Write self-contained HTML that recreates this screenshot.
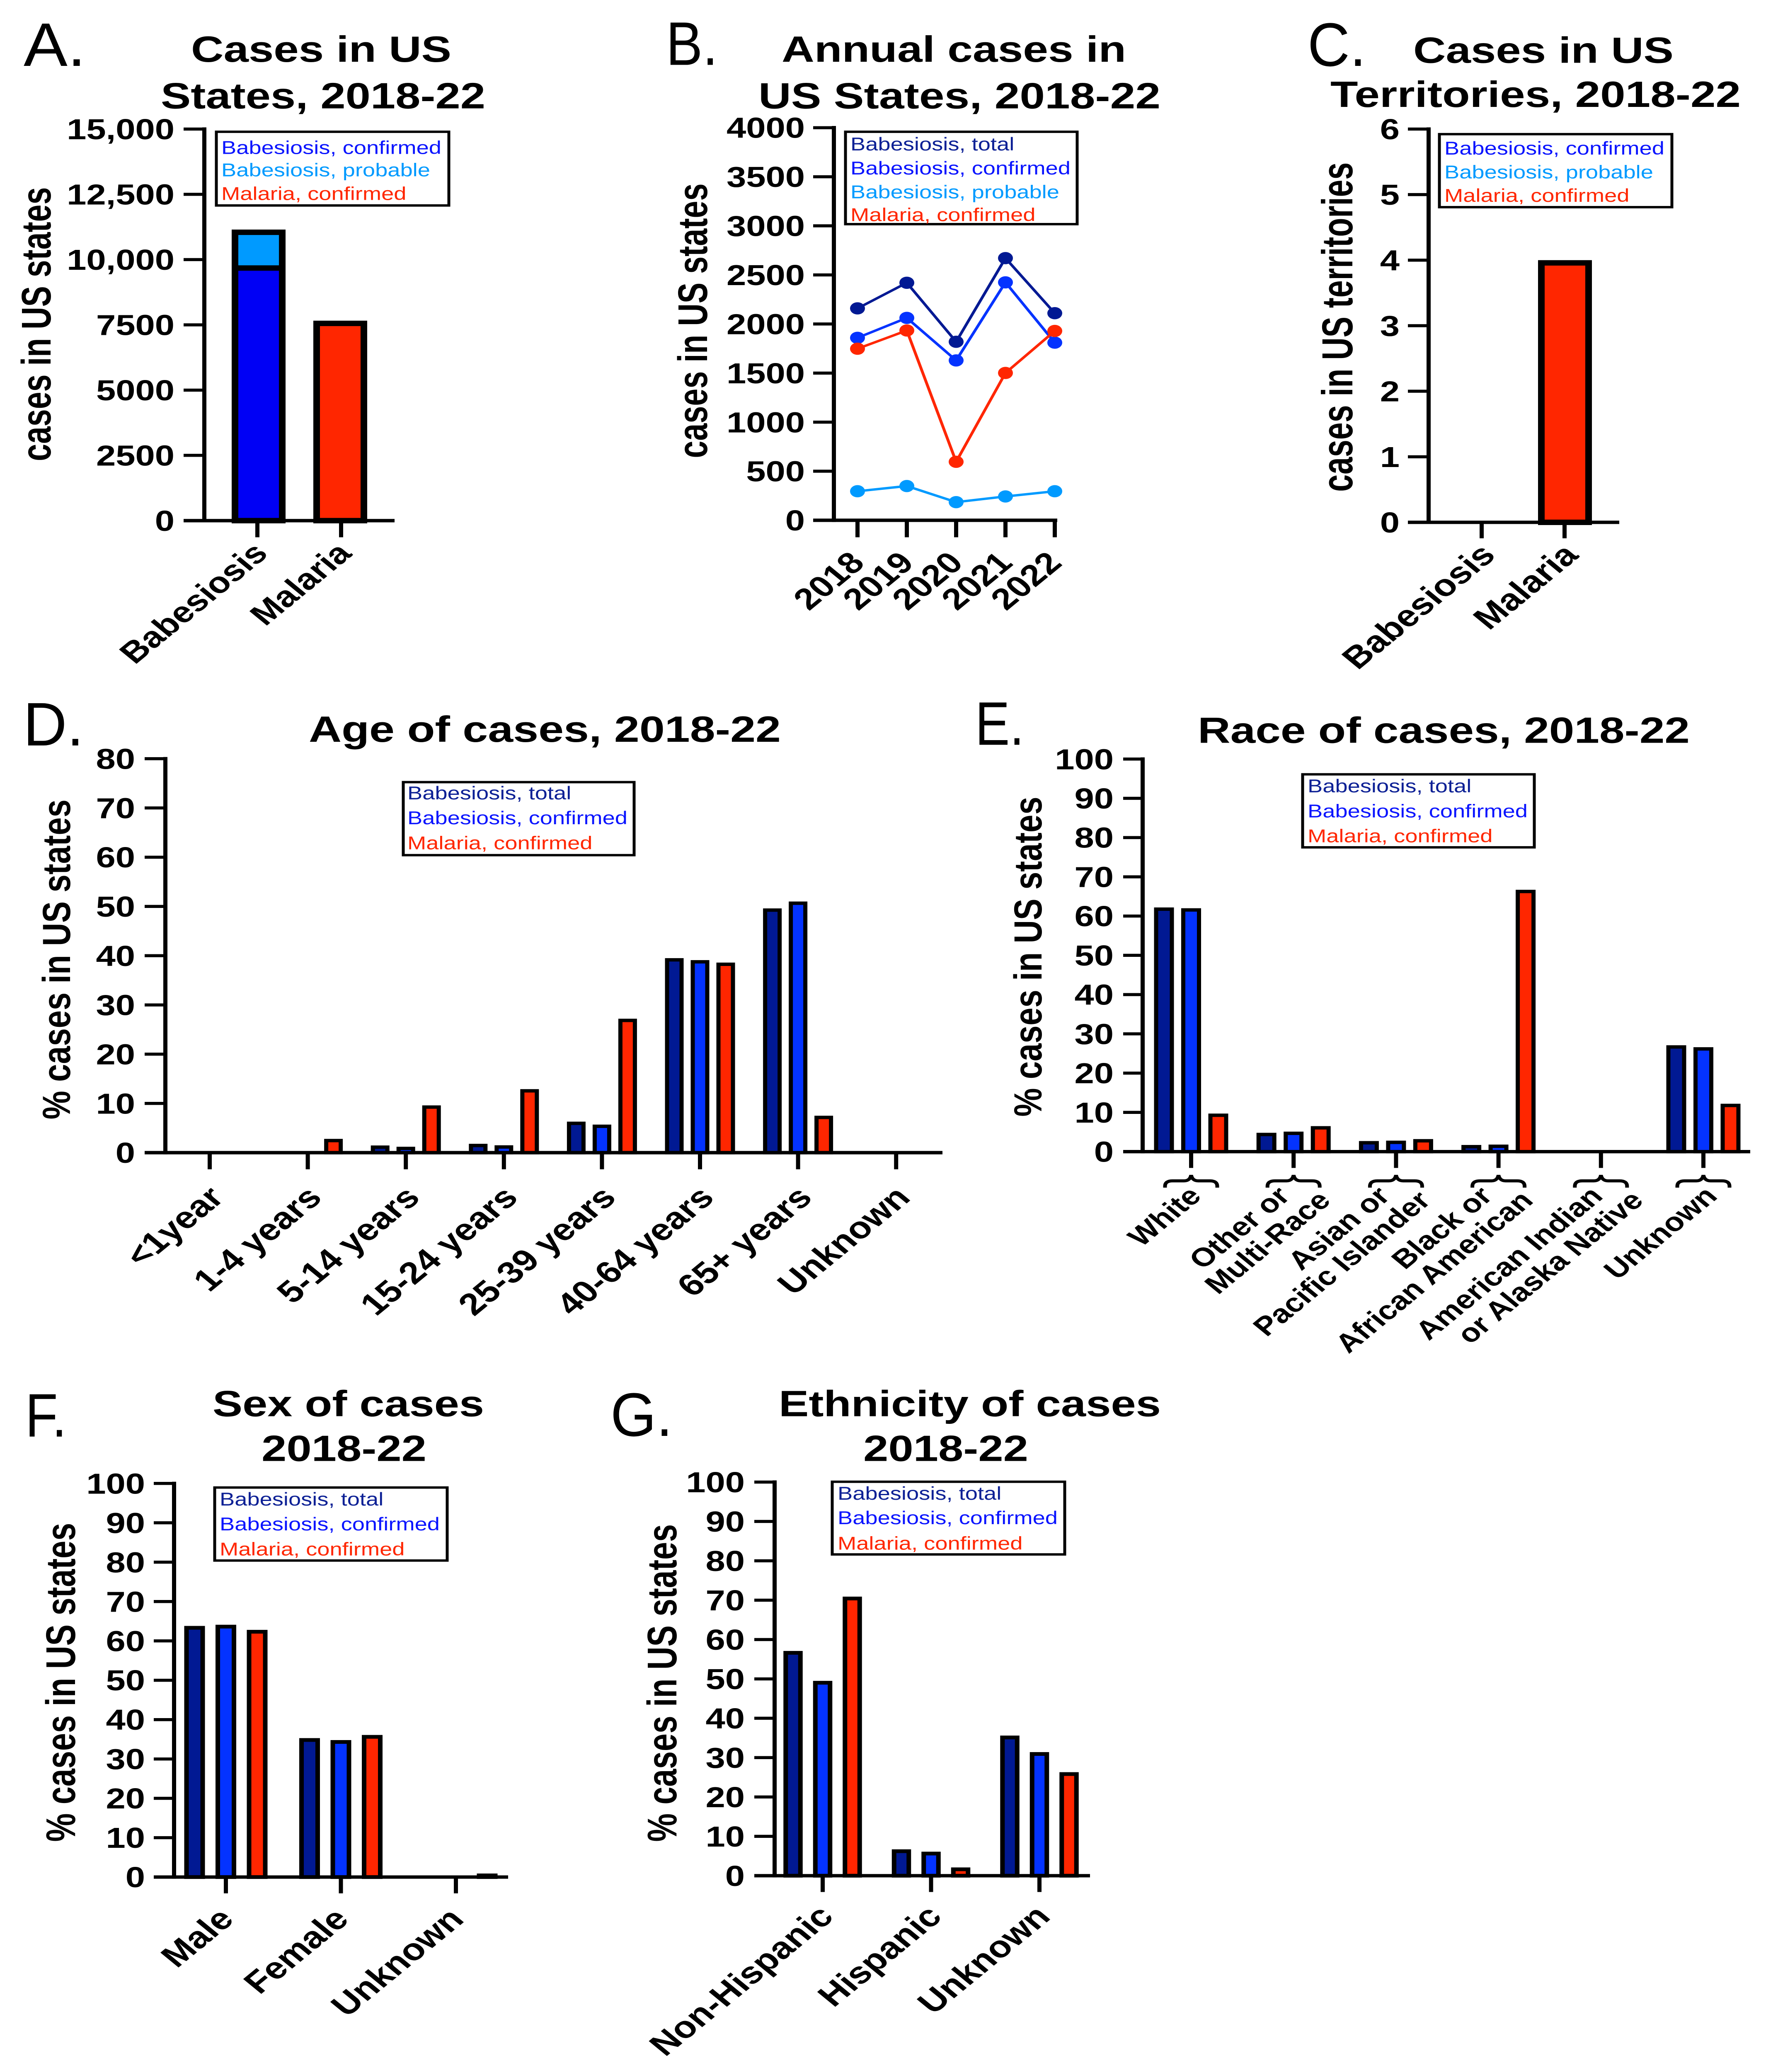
<!DOCTYPE html>
<html lang="en" style="width:100%;height:100%;margin:0;padding:0;overflow:hidden;">
<head>
<meta charset="utf-8">
<title>Babesiosis and malaria cases, 2018-22</title>
<style>
html,body{margin:0;padding:0;background:#fff;width:100%;height:100%;overflow:hidden;}
svg{display:block;position:fixed;left:0;top:0;width:100vw;height:100vh;font-family:"Liberation Sans",Arial,sans-serif;}
</style>
</head>
<body>
<svg id="figure" xmlns="http://www.w3.org/2000/svg" viewBox="0 0 4290 6101" preserveAspectRatio="none">
<rect x="0" y="0" width="4290" height="6101" fill="#ffffff"/>
</svg>
<script>
/* ---------- chart data ---------- */
const panelACategories = ['Babesiosis', 'Malaria'];
const panelABabesiosisConfirmed = [9780];
const panelABabesiosisProbable = [1370];
const panelAMalariaConfirmed = [7660];
const panelAYTicks = [0, 2500, 5000, 7500, 10000, 12500, 15000];
const panelAYLabels = ['0', '2500', '5000', '7500', '10,000', '12,500', '15,000'];

const panelBYears = ['2018', '2019', '2020', '2021', '2022'];
const panelBTotal = [2159, 2420, 1819, 2671, 2110];
const panelBConfirmed = [1859, 2062, 1629, 2424, 1810];
const panelBProbable = [296, 349, 185, 243, 296];
const panelBMalaria = [1748, 1934, 596, 1501, 1929];
const panelBYTicks = [0, 500, 1000, 1500, 2000, 2500, 3000, 3500, 4000];

const panelCCategories = ['Babesiosis', 'Malaria'];
const panelCMalariaConfirmed = [4];
const panelCYTicks = [0, 1, 2, 3, 4, 5, 6];

const panelDCategories = ['<1year', '1-4 years', '5-14 years', '15-24 years', '25-39 years', '40-64 years', '65+ years', 'Unknown'];
const panelDTotal = [0, 0, 1.46, 1.8, 6.3, 39.5, 49.6, 0];
const panelDConfirmed = [0, 0, 1.2, 1.5, 5.7, 39.1, 51, 0];
const panelDMalaria = [0, 2.8, 9.6, 12.9, 27.2, 38.6, 7.5, 0];
const panelDYTicks = [0, 10, 20, 30, 40, 50, 60, 70, 80];

const panelECategories = [['White'], ['Other or', 'Multi-Race'], ['Asian or', 'Pacific Islander'], ['Black or', 'African American'], ['American Indian', 'or Alaska Native'], ['Unknown']];
const panelETotal = [62.2, 4.8, 2.7, 1.7, 0, 27.1];
const panelEConfirmed = [62, 5.1, 2.8, 1.8, 0, 26.6];
const panelEMalaria = [9.7, 6.5, 3.2, 66.7, 0, 12.2];
const percentYTicks = [0, 10, 20, 30, 40, 50, 60, 70, 80, 90, 100];

const panelFCategories = ['Male', 'Female', 'Unknown'];
const panelFTotal = [63.8, 35.3, 0.1];
const panelFConfirmed = [64.1, 34.8, 0.1];
const panelFMalaria = [62.8, 36.1, 0.9];

const panelGCategories = ['Non-Hispanic', 'Hispanic', 'Unknown'];
const panelGTotal = [57.1, 6.7, 35.6];
const panelGConfirmed = [49.5, 6.1, 31.4];
const panelGMalaria = [70.9, 2.1, 26.3];

/* ---------- colours and legends ---------- */
const MIDNIGHT = '#011993';
const BLUE = '#0433ff';
const PURE_BLUE = '#0000f5';
const OCEAN = '#009aff';
const RED = '#ff2600';
const BLACK = '#000000';
const LEGEND_BLUE = '#0a14ff';
const LEGEND_MIDNIGHT = '#0c2095';

/* ---------- layout (pixels, not data) ---------- */
const layoutA = {x:493, top:380, base:1533, tickLeft:443, axisEnd:952, tickBottom:1582, firstTick:621, step:202, max:15000, tickRight:421, labelDx:29, labelDy:101, labelSize:87};
const layoutB = {x:2012, top:376, base:1532, tickLeft:1962, axisEnd:2551, tickBottom:1582, firstTick:2069, step:119, max:4000, tickRight:1942, labelDx:21, labelDy:130, labelSize:88};
const layoutC = {x:3447, top:380, base:1538, tickLeft:3397, axisEnd:3907, tickBottom:1585, firstTick:3575, step:200, max:6, tickRight:3377, labelDx:37, labelDy:101, labelSize:90};
const layoutD = {x:399, top:2234, base:3394, tickLeft:349, axisEnd:2274, tickBottom:3443, firstTick:506, step:236.6, max:80, tickRight:326, labelDx:38, labelDy:137, labelSize:90, barWidth:45, barGap:62, border:10};
const layoutE = {x:2757, top:2235, base:3391, tickLeft:2710, axisEnd:4223, tickBottom:3439, firstTick:2874, step:247.2, max:100, tickRight:2687, labelDx:0, labelDy:135, labelSize:77, barWidth:48, barGap:65.5, border:10};
const layoutENudge = [28, -5, -11, -11, 8, 37];
const layoutF = {x:420, top:4368, base:5527, tickLeft:371, axisEnd:1226, tickBottom:5575, firstTick:545, step:277.5, max:100, tickRight:350, labelDx:23, labelDy:129, labelSize:90, barWidth:50, barGap:75.5, border:11};
const layoutG = {x:1869, top:4364, base:5523, tickLeft:1820, axisEnd:2630, tickBottom:5571, firstTick:1985, step:261.5, max:100, tickRight:1797, labelDx:30, labelDy:125, labelSize:90, barWidth:46.5, barGap:71.5, border:11};

/* ---------- helpers ---------- */
const SVG_NS = 'http://www.w3.org/2000/svg';
const root = document.getElementById('figure');

function make(tag, parent, attrs) {
  const el = document.createElementNS(SVG_NS, tag);
  for (const k in attrs) el.setAttribute(k, attrs[k]);
  parent.appendChild(el);
  return el;
}
function text(parent, str, x, y, o) {
  o = o || {};
  const attrs = {
    'font-size': o.size || 84,
    'font-weight': o.weight || 'bold',
    'text-anchor': o.anchor || 'start',
    fill: o.fill || BLACK,
    transform: 'translate(' + x + ',' + y + ')' + (o.rotate ? ' rotate(' + o.rotate + ')' : '')
  };
  if (o.length) { attrs.textLength = o.length; attrs.lengthAdjust = 'spacingAndGlyphs'; }
  const el = make('text', parent, attrs);
  el.textContent = str;
  return el;
}
function panelGroup(name) {
  const g = make('g', root, {});
  
  
  return g;
}
function yScale(L) { return v => L.base - v / L.max * (L.base - L.top); }
function xScale(L) { return i => L.firstTick + i * L.step; }

function drawAxes(g, L, yTicks, yLabels, count) {
  const y = yScale(L), x = xScale(L);
  const yAxis = make('line', g, {x1:L.x, x2:L.x, y1:L.top - 5, y2:L.base + 5, stroke:BLACK, 'stroke-width':10});
  
  
  const xAxis = make('line', g, {x1:L.tickLeft, x2:L.axisEnd, y1:L.base, y2:L.base, stroke:BLACK, 'stroke-width':10});
  
  
  yTicks.forEach((v, i) => {
    const tick = make('line', g, {x1:L.tickLeft, x2:L.x, y1:y(v), y2:y(v), stroke:BLACK, 'stroke-width':9});
    
    
    const lab = text(g, yLabels ? yLabels[i] : String(v), L.tickRight, y(v) + 30, {size:85, anchor:'end'});
    
    
  });
  for (let i = 0; i < count; i++) {
    const tick = make('line', g, {x1:x(i), x2:x(i), y1:L.base, y2:L.tickBottom, stroke:BLACK, 'stroke-width':10});
    
    
  }
}
function drawXLabels(g, L, cats) {
  const x = xScale(L);
  cats.forEach((c, i) => {
    const lab = text(g, c, x(i) + L.labelDx, L.base + L.labelDy, {size:L.labelSize, anchor:'end', rotate:-45});
    
    
  });
}
function drawBar(g, name, cx, width, border, yTop, yBottom, fill) {
  const h = Math.max(0, yBottom - yTop - border / 2);
  const bar = make('rect', g, {x:cx - width / 2 + border / 2, y:yTop + border / 2, width:width - border, height:h, fill:fill, stroke:BLACK, 'stroke-width':border});
  
  
  return bar;
}
function drawGrouped(g, L, seriesList, colors, names) {
  const y = yScale(L), x = xScale(L);
  seriesList.forEach((series, s) => {
    series.forEach((v, i) => {
      const cx = x(i) + (s - 1) * L.barGap;
      drawBar(g, names[s], cx, L.barWidth, L.border, y(v), L.base, colors[s]);
    });
  });
}
function drawLegend(g, box, entries) {
  const frame = make('rect', g, {x:box.x, y:box.y, width:box.w, height:box.h, fill:'#ffffff', stroke:BLACK, 'stroke-width':7});
  
  
  entries.forEach((e, i) => {
    const t = text(g, e[0], box.tx, box.baselines[i], {size:54.3, weight:'normal', fill:e[1]});
    
    
  });
}
function drawLetter(g, str, x, y, len) {
  const t = text(g, str, x, y, {size:181, weight:'normal', length:len});
  
  
}
function drawTitle(g, str, x, y, len) {
  const t = text(g, str, x, y, {size:108, length:len});
  
  
}
function drawYTitle(g, str, x, yBottom, len, size) {
  const t = text(g, str, x, yBottom, {size:size, rotate:-90, length:len});
  
  
}

const legendThree = [['Babesiosis, total', LEGEND_MIDNIGHT], ['Babesiosis, confirmed', LEGEND_BLUE], ['Malaria, confirmed', RED]];
const legendStacked = [['Babesiosis, confirmed', LEGEND_BLUE], ['Babesiosis, probable', OCEAN], ['Malaria, confirmed', RED]];
const groupColors = [MIDNIGHT, BLUE, RED];
const groupNames = ['bar-babesiosis-total', 'bar-babesiosis-confirmed', 'bar-malaria-confirmed'];

/* ---------- panel A ---------- */
(function () {
  const g = panelGroup('panel-a');
  const L = layoutA, y = yScale(L);
  drawLetter(g, 'A.', 57, 194, 150);
  drawTitle(g, 'Cases in US', 461, 182, 628);
  drawTitle(g, 'States, 2018-22', 388, 319, 783);
  drawYTitle(g, 'cases in US states', 122, 1358, 807, 100);
  const conf = panelABabesiosisConfirmed[0];
  const prob = panelABabesiosisProbable[0];
  drawBar(g, 'bar-babesiosis-probable', 624, 130, 16, y(conf + prob), y(conf) + 16, OCEAN);
  drawBar(g, 'bar-babesiosis-confirmed', 624, 130, 16, y(conf), L.base, PURE_BLUE);
  drawBar(g, 'bar-malaria-confirmed', 821, 130, 16, y(panelAMalariaConfirmed[0]), L.base, RED);
  drawAxes(g, L, panelAYTicks, panelAYLabels, panelACategories.length);
  drawXLabels(g, L, panelACategories);
  drawLegend(g, {x:522, y:388, w:561, h:217, tx:534, baselines:[453, 519, 589]}, legendStacked);
})();

/* ---------- panel B ---------- */
(function () {
  const g = panelGroup('panel-b');
  const L = layoutB, y = yScale(L), x = xScale(L);
  drawLetter(g, 'B.', 1607, 191, 125);
  drawTitle(g, 'Annual cases in', 1886, 182, 831);
  drawTitle(g, 'US States, 2018-22', 1830, 319, 970);
  drawYTitle(g, 'cases in US states', 1706, 1349, 809, 100);
  const series = [[panelBTotal, MIDNIGHT, 'series-babesiosis-total'], [panelBConfirmed, BLUE, 'series-babesiosis-confirmed'], [panelBProbable, OCEAN, 'series-babesiosis-probable'], [panelBMalaria, RED, 'series-malaria-confirmed']];
  drawAxes(g, L, panelBYTicks, null, panelBYears.length);
  series.forEach(sr => {
    const pts = sr[0].map((v, i) => x(i) + ',' + y(v)).join(' ');
    const line = make('polyline', g, {points:pts, fill:'none', stroke:sr[1], 'stroke-width':7});
    
    
    sr[0].forEach((v, i) => {
      const dot = make('circle', g, {cx:x(i), cy:y(v), r:18, fill:sr[1]});
      
      
    });
  });
  drawXLabels(g, L, panelBYears);
  drawLegend(g, {x:2040, y:388, w:559, h:272, tx:2052, baselines:[443, 514, 584, 651]}, [['Babesiosis, total', LEGEND_MIDNIGHT], ['Babesiosis, confirmed', LEGEND_BLUE], ['Babesiosis, probable', OCEAN], ['Malaria, confirmed', RED]]);
})();

/* ---------- panel C ---------- */
(function () {
  const g = panelGroup('panel-c');
  const L = layoutC, y = yScale(L);
  drawLetter(g, 'C.', 3155, 194, 141);
  drawTitle(g, 'Cases in US', 3410, 185, 628);
  drawTitle(g, 'Territories, 2018-22', 3210, 315, 990);
  drawYTitle(g, 'cases in US territories', 3263, 1448, 970, 105);
  drawBar(g, 'bar-malaria-confirmed', 3776, 130, 16, y(panelCMalariaConfirmed[0]), L.base, RED);
  drawAxes(g, L, panelCYTicks, null, panelCCategories.length);
  drawXLabels(g, L, panelCCategories);
  drawLegend(g, {x:3473, y:395, w:561, h:215, tx:3485, baselines:[455, 525, 594]}, legendStacked);
})();

/* ---------- panel D ---------- */
(function () {
  const g = panelGroup('panel-d');
  const L = layoutD;
  drawLetter(g, 'D.', 56, 2195, 146);
  drawTitle(g, 'Age of cases, 2018-22', 745, 2184, 1139);
  drawYTitle(g, '% cases in US states', 169, 3296, 942, 95);
  drawGrouped(g, L, [panelDTotal, panelDConfirmed, panelDMalaria], groupColors, groupNames);
  drawAxes(g, L, panelDYTicks, null, panelDCategories.length);
  drawXLabels(g, L, panelDCategories);
  drawLegend(g, {x:973, y:2303, w:557, h:215, tx:983, baselines:[2354, 2427, 2501]}, legendThree);
})();

/* ---------- panel E ---------- */
(function () {
  const g = panelGroup('panel-e');
  const L = layoutE, x = xScale(L);
  drawLetter(g, 'E.', 2353, 2193, 118);
  drawTitle(g, 'Race of cases, 2018-22', 2890, 2187, 1187);
  drawYTitle(g, '% cases in US states', 2513, 3288, 942, 95);
  drawGrouped(g, L, [panelETotal, panelEConfirmed, panelEMalaria], groupColors, groupNames);
  drawAxes(g, L, percentYTicks, null, panelECategories.length);
  panelECategories.forEach((lines, i) => {
    const cx = x(i);
    const d = 'M' + (cx - 63) + ',3497 v-4 q0,-16 18,-16 h28 q14,0 17,-17 q3,17 17,17 h28 q18,0 18,16 v4';
    const brace = make('path', g, {d:d, fill:'none', stroke:BLACK, 'stroke-width':9});
    
    
    lines.forEach((ln, k) => {
      const t = text(g, ln, cx + layoutENudge[i] + k * 98, L.base + L.labelDy + k * 13, {size:L.labelSize, anchor:'end', rotate:-45});
      
      
    });
  });
  drawLegend(g, {x:3143, y:2280, w:559, h:215, tx:3155, baselines:[2333, 2407, 2480]}, legendThree);
})();

/* ---------- panel F ---------- */
(function () {
  const g = panelGroup('panel-f');
  const L = layoutF;
  drawLetter(g, 'F.', 61, 4230, 100);
  drawTitle(g, 'Sex of cases', 513, 4170, 655);
  drawTitle(g, '2018-22', 631, 4302, 398);
  drawYTitle(g, '% cases in US states', 181, 5423, 939, 100);
  drawGrouped(g, L, [panelFTotal, panelFConfirmed, panelFMalaria], groupColors, groupNames);
  drawAxes(g, L, percentYTicks, null, panelFCategories.length);
  drawXLabels(g, L, panelFCategories);
  drawLegend(g, {x:518, y:4380, w:561, h:215, tx:530, baselines:[4433, 4506, 4580]}, legendThree);
})();

/* ---------- panel G ---------- */
(function () {
  const g = panelGroup('panel-g');
  const L = layoutG;
  drawLetter(g, 'G.', 1473, 4228, 150);
  drawTitle(g, 'Ethnicity of cases', 1879, 4170, 922);
  drawTitle(g, '2018-22', 2083, 4302, 398);
  drawYTitle(g, '% cases in US states', 1632, 5423, 935, 100);
  drawGrouped(g, L, [panelGTotal, panelGConfirmed, panelGMalaria], groupColors, groupNames);
  drawAxes(g, L, percentYTicks, null, panelGCategories.length);
  drawXLabels(g, L, panelGCategories);
  drawLegend(g, {x:2008, y:4363, w:561, h:214, tx:2021, baselines:[4416, 4488, 4563]}, legendThree);
})();
</script>
</body>
</html>
